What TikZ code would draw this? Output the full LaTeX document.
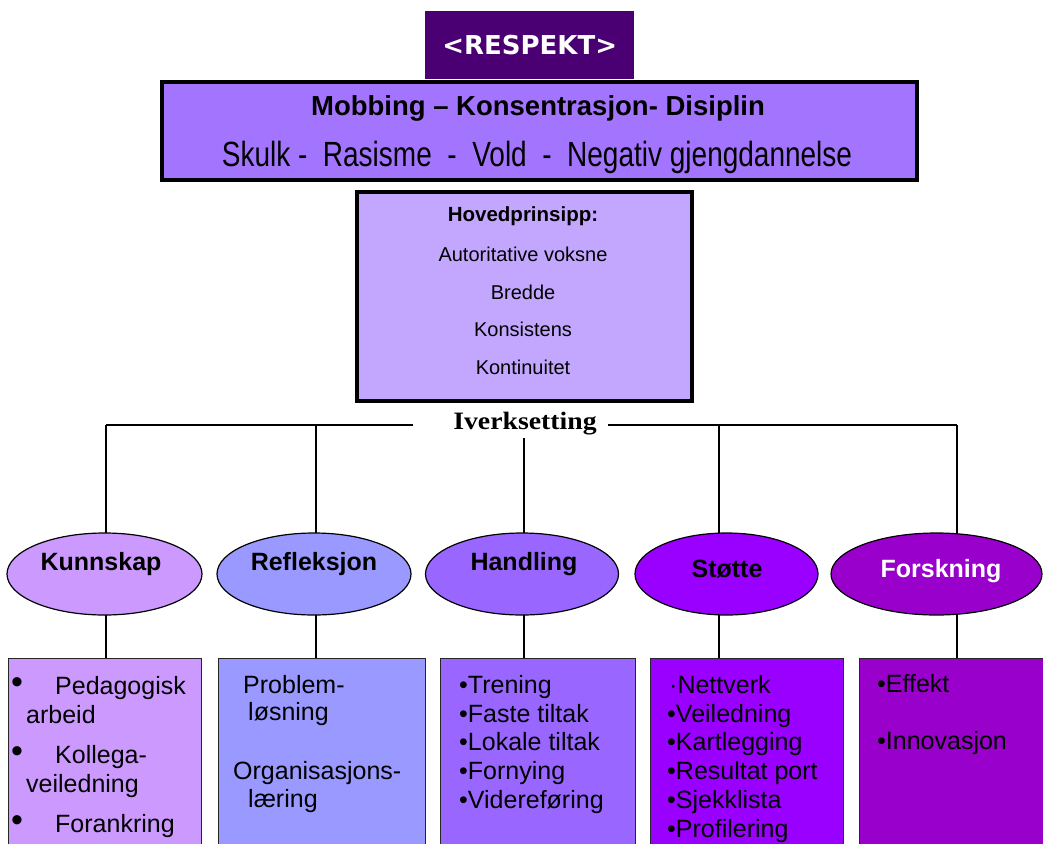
\documentclass[tikz,border=0pt]{standalone}
\usepackage{fontspec}
\setmainfont{Liberation Sans}
\newfontfamily\seriffont{Liberation Serif}
\newfontfamily\logofont{DejaVu Sans}
\usetikzlibrary{shapes.geometric,backgrounds}
\definecolor{respektc}{HTML}{4A0072}
\definecolor{topc}{HTML}{A375FF}
\definecolor{midc}{HTML}{C3A7FF}
\definecolor{ca}{HTML}{CC99FF}
\definecolor{cb}{HTML}{9999FF}
\definecolor{cc}{HTML}{9966FF}
\definecolor{cd}{HTML}{9900FF}
\definecolor{ce}{HTML}{9900CC}
\newcommand{\hsc}[2]{\scalebox{#1}[1]{#2}}
\begin{document}
\begin{tikzpicture}[x=1pt,y=-1pt,
  fsz/.style={font=\fontsize{#1}{#1}\selectfont},
  fszb/.style={font=\bfseries\fontsize{#1}{#1}\selectfont},
  bigbox/.style={draw=black, line width=3.5pt, inner sep=0, anchor=north west},
  ell/.style={ellipse, draw=black, line width=1.2pt, inner sep=0},
  bbox/.style={draw=black!85, line width=1.2pt, inner sep=0, anchor=north west, minimum height=220pt},
  conn/.style={draw=black, line width=1.2pt},
  bt/.style={anchor=base west, inner sep=0, font=\fontsize{25}{25}\selectfont},
  bul/.style={anchor=base west, inner sep=0, font=\fontsize{34}{34}\selectfont},
  ctr/.style={anchor=base, inner sep=0},
  elab/.style={anchor=base, inner sep=0, font=\bfseries\fontsize{25}{25}\selectfont}]
\useasboundingbox (0,0) rectangle (1043,843);
\clip (0,0) rectangle (1043,843);

% logo
\node[fill=respektc, inner sep=0, minimum width=209pt, minimum height=68pt, anchor=north west] (logo) at (425,11) {};
\node[text=white, inner sep=0, font=\logofont\bfseries\fontsize{26}{26}\selectfont] (logot) at (logo.center) {<RESPEKT>};

% top box
\node[bigbox, fill=topc, minimum width=755pt, minimum height=98pt] (top) at (160,80) {};
\node[ctr, fszb=27.5] (t1) at (538,115) {Mobbing – Konsentrasjon- Disiplin};
\node[ctr, fsz=35] (t2) at (537,166) {\hsc{0.8}{Skulk -~~Rasisme~~-~~Vold~~-~~Negativ gjengdannelse}};

% middle box
\node[bigbox, fill=midc, minimum width=335pt, minimum height=209pt] (mid) at (355,190) {};
\node[ctr, fszb=20.5] (m1) at (523,221) {Hovedprinsipp:};
\node[ctr, fsz=20] (m2) at (523,261) {Autoritative voksne};
\node[ctr, fsz=20] (m3) at (523,299) {Bredde};
\node[ctr, fsz=20] (m4) at (523,336) {Konsistens};
\node[ctr, fsz=20] (m5) at (523,374) {Kontinuitet};

% Iverksetting
\node[ctr, font=\seriffont\bfseries\fontsize{25}{25}\selectfont] (iv) at (525,429) {\hsc{1.11}{Iverksetting}};

% bus coordinates
\coordinate (b1) at (106,425);
\coordinate (b2) at (316,425);
\coordinate (b4) at (719,425);
\coordinate (b5) at (957,425);
\coordinate (bl) at (413,425);
\coordinate (br) at (608,425);
\coordinate (b3) at (524,438);

% ellipses
\node[ell, fill=ca, minimum width=195pt, minimum height=82pt] (e1) at (104.5,574) {};
\node[ell, fill=cb, minimum width=194pt, minimum height=82pt] (e2) at (314,574) {};
\node[ell, fill=cc, minimum width=193pt, minimum height=82pt] (e3) at (522,574) {};
\node[ell, fill=cd, minimum width=183pt, minimum height=82pt] (e4) at (726.5,574) {};
\node[ell, fill=ce, minimum width=211pt, minimum height=82pt] (e5) at (936.5,574) {};
\node[elab] (l1) at (101,570) {Kunnskap};
\node[elab] (l2) at (314,570) {Refleksjon};
\node[elab] (l3) at (524,570) {Handling};
\node[elab] (l4) at (727,577) {Støtte};
\node[elab, text=white] (l5) at (941,577) {Forskning};

% bottom boxes
\node[bbox, fill=ca, minimum width=193pt] (k1) at (8,658) {};
\node[bbox, fill=cb, minimum width=207pt] (k2) at (218,658) {};
\node[bbox, fill=cc, minimum width=195pt] (k3) at (440,658) {};
\node[bbox, fill=cd, minimum width=193pt] (k4) at (650,658) {};
\node[bbox, fill=ce, minimum width=200pt] (k5) at (859,658) {};

% box 1
\node[bul] (k1b1) at (11,693) {•};
\node[bt] (k1t1) at (55,694) {Pedagogisk};
\node[bt] (k1t2) at (26,723) {arbeid};
\node[bul] (k1b2) at (11,762) {•};
\node[bt] (k1t3) at (55,763) {Kollega-};
\node[bt] (k1t4) at (26,792) {veiledning};
\node[bul] (k1b3) at (11,831) {•};
\node[bt] (k1t5) at (55,832) {Forankring};
% box 2
\node[bt] (k2t1) at (243,693) {Problem-};
\node[bt] (k2t2) at (248,720) {løsning};
\node[bt] (k2t3) at (233,779) {Organisasjons-};
\node[bt] (k2t4) at (248,807) {læring};
% box 3
\node[bt] (k3t1) at (459,693) {•Trening};
\node[bt] (k3t2) at (459,722) {•Faste tiltak};
\node[bt] (k3t3) at (459,750) {•Lokale tiltak};
\node[bt] (k3t4) at (459,779) {•Fornying};
\node[bt] (k3t5) at (459,808) {•Videreføring};
% box 4
\node[bt] (k4t1) at (669,693) {·Nettverk};
\node[bt] (k4t2) at (667,722) {•Veiledning};
\node[bt] (k4t3) at (667,750) {•Kartlegging};
\node[bt] (k4t4) at (667,779) {•Resultat port};
\node[bt] (k4t5) at (667,808) {•Sjekklista};
\node[bt] (k4t6) at (667,837) {•Profilering};
% box 5
\node[bt] (k5t1) at (877,692) {•Effekt};
\node[bt] (k5t2) at (877,749) {•Innovasjon};

\begin{scope}[on background layer]
\fill[white] (0,0) rectangle (1043,843);
\draw[conn] (b1) -- (bl);
\draw[conn] (br) -- (b5);
\draw[conn] (b1) -- (b1 |- e1.center);
\draw[conn] (b2) -- (b2 |- e2.center);
\draw[conn] (b3) -- (b3 |- e3.center);
\draw[conn] (b4) -- (b4 |- e4.center);
\draw[conn] (b5) -- (b5 |- e5.center);
\draw[conn] (b1 |- e1.center) -- (b1 |- k1.north);
\draw[conn] (b2 |- e2.center) -- (b2 |- k2.north);
\draw[conn] (b3 |- e3.center) -- (b3 |- k3.north);
\draw[conn] (b4 |- e4.center) -- (b4 |- k4.north);
\draw[conn] (b5 |- e5.center) -- (b5 |- k5.north);
\end{scope}
\end{tikzpicture}
\end{document}
